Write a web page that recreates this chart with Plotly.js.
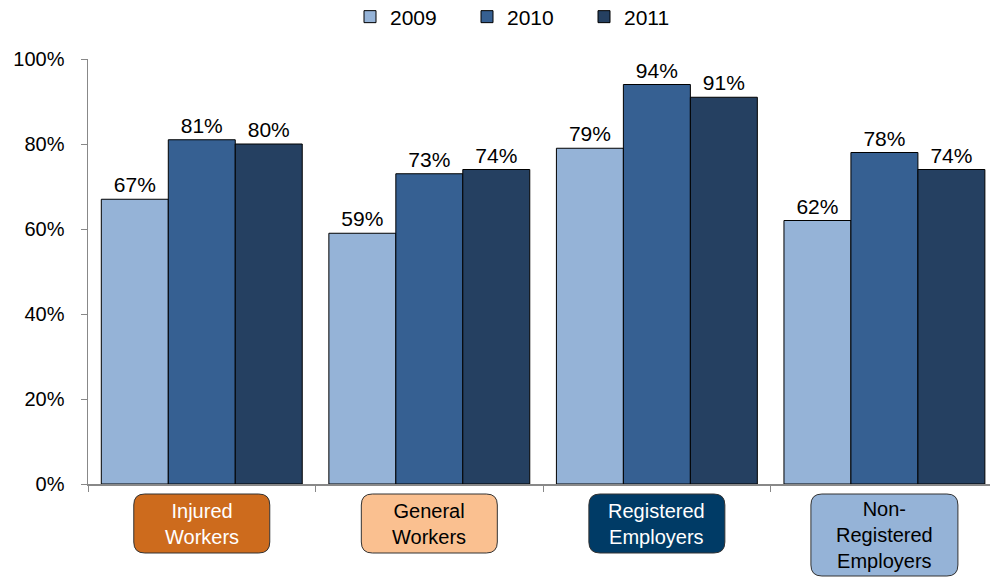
<!DOCTYPE html>
<html>
<head>
<meta charset="utf-8">
<script src="https://cdn.plot.ly/plotly-3.0.1.min.js"></script>
<style>html,body{margin:0;padding:0;background:#fff;}#chart{width:990px;height:577px;}</style>
</head>
<body>
<div id="chart"></div>
<script>
const categories = ["Injured<br>Workers", "General<br>Workers", "Registered<br>Employers", "Non-<br>Registered<br>Employers"];
const years = ["2009", "2010", "2011"];
const values2009 = [67, 59, 79, 62];
const values2010 = [81, 73, 94, 78];
const values2011 = [80, 74, 91, 74];
const yTicks = [0, 20, 40, 60, 80, 100];

const seriesValues = [values2009, values2010, values2011];
const seriesColors = ["#95B3D7", "#366092", "#254061"];
const boxFill = ["#CD6B1D", "#FAC090", "#003B66", "#95B3D7"];
const boxText = ["#FFFFFF", "#000000", "#FFFFFF", "#000000"];

const xIdx = categories.map((_, i) => i);
const xMin = -0.5, xMax = 3.464;
const font = "Liberation Sans, Arial, sans-serif";

const traces = seriesValues.map((vals, s) => ({
  type: "bar",
  name: years[s],
  x: xIdx,
  y: vals,
  text: vals.map(v => v + "%"),
  textposition: "outside",
  textfont: {family: font, size: 21, color: "#000"},
  cliponaxis: false,
  marker: {color: seriesColors[s], line: {color: "#000", width: 1}},
  hoverinfo: "skip"
}));

const plotH = 425;
const plotW = 902;
function px2py(pxFromAxis) { return -pxFromAxis / plotH; }
function xToPaper(x) { return (x - xMin) / (xMax - xMin); }

const shapes = [];
const annotations = [];
categories.forEach((c, i) => {
  const halfW = (i === 3 ? 73.5 : 68) / plotW;
  const cx = xToPaper(i);
  const x0 = cx - halfW, x1 = cx + halfW;
  const y0 = px2py(10), y1 = px2py(i === 3 ? 92 : 69);
  const rx = 11 / plotW, ry = 11 / plotH;
  const path = `M ${x0 + rx},${y0} L ${x1 - rx},${y0} Q ${x1},${y0} ${x1},${y0 - ry} ` +
    `L ${x1},${y1 + ry} Q ${x1},${y1} ${x1 - rx},${y1} L ${x0 + rx},${y1} Q ${x0},${y1} ${x0},${y1 + ry} ` +
    `L ${x0},${y0 - ry} Q ${x0},${y0} ${x0 + rx},${y0} Z`;
  shapes.push({type: "path", xref: "paper", yref: "paper", path: path,
    fillcolor: boxFill[i], line: {color: "#333", width: 1}, layer: "above"});
  annotations.push({xref: "paper", yref: "paper", x: cx, y: (y0 + y1) / 2,
    text: c, showarrow: false, xanchor: "center", yanchor: "middle",
    font: {family: font, size: 20, color: boxText[i]}});
});

const layout = {
  width: 990, height: 577,
  margin: {l: 88, r: 0, t: 59, b: 93, pad: 0, autoexpand: false},
  paper_bgcolor: "#fff", plot_bgcolor: "#fff",
  barmode: "group", bargap: 0.117, bargroupgap: 0,
  font: {family: font, size: 20, color: "#000"},
  showlegend: true,
  legend: {orientation: "h", x: (350 - 88) / 902, xanchor: "left", y: 1 + 42 / 425, yanchor: "middle",
    font: {family: font, size: 21, color: "#000"}, entrywidth: 72, entrywidthmode: "pixels",
    itemwidth: 30, traceorder: "normal"},
  xaxis: {type: "linear", range: [xMin, xMax], showgrid: false, zeroline: false,
    showline: true, linecolor: "#888", linewidth: 1.5,
    tickmode: "array", tickvals: [-0.5, 0.5, 1.5, 2.5, 3.5], ticks: "outside", ticklen: 6,
    tickcolor: "#888", showticklabels: false, fixedrange: true},
  yaxis: {range: [0, 100], tickmode: "array", tickvals: yTicks, ticktext: yTicks.map(v => v + "%"),
    showgrid: false, zeroline: false, showline: true, linecolor: "#888", linewidth: 1.5,
    ticks: "outside", ticklen: 6, tickcolor: "#888", ticklabelstandoff: 12,
    tickfont: {family: font, size: 20, color: "#000"}, fixedrange: true},
  shapes: shapes,
  annotations: annotations
};

Plotly.newPlot("chart", traces, layout, {displayModeBar: false, staticPlot: true});
</script>
</body>
</html>
